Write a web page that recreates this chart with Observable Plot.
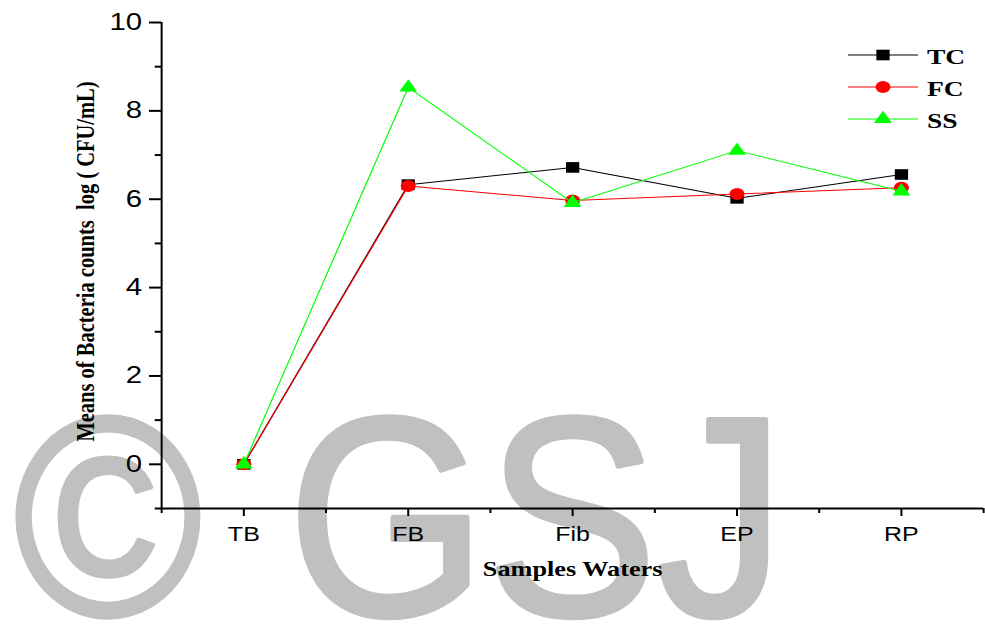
<!DOCTYPE html>
<html>
<head>
<meta charset="utf-8">
<script src="https://cdn.jsdelivr.net/npm/d3@7"></script>
<script src="https://cdn.jsdelivr.net/npm/@observablehq/plot@0.6"></script>
<style>
  html, body { margin: 0; padding: 0; background: #fff; width: 985px; height: 625px; overflow: hidden; }
  #wm { position: absolute; left: 0; top: 0; }
  #wrap { position: absolute; left: 0; top: 0; width: 788px; height: 625px; transform: scale(1.25, 1); transform-origin: 0 0; }
  #wrap svg { position: absolute; left: 0; top: 0; background: transparent; }
</style>
</head>
<body>
<svg id="wm" width="985" height="625"></svg>
<div id="wrap"></div>
<script>
// ---- data ----
const samples = ["TB", "FB", "Fib", "EP", "RP"];
const tc = [0, 6.33, 6.72, 6.02, 6.56];
const fc = [0, 6.30, 5.97, 6.12, 6.26];
const ss = [0, 8.53, 5.92, 7.10, 6.18];
const seriesNames = ["TC", "FC", "SS"];
const yTicks = [0, 2, 4, 6, 8, 10];
const yMinorTicks = [-1, 1, 3, 5, 7, 9];
const xMinorTicks = [0.5, 1.5, 2.5, 3.5, 4.5, 5.5];
const xTitle = "Samples Waters";
const yTitle = "Means of Bacteria counts  log ( CFU/mL)";
const watermark = ["©", "G", "S", "J"];

// ---- layout ----
const S = 1.25;             // horizontal stretch of the original picture
const W = 985 / S;
const xLeft = 161 / S, xRight = 983 / S;

const rows = samples.map((s, i) => ({ x: i + 1, name: s, TC: tc[i], FC: fc[i], SS: ss[i] }));
const colors = { TC: "#000000", FC: "#ff0000", SS: "#00ff00" };
const symbols = { TC: "square", FC: "circle", SS: "triangle" };
const radii = { TC: 6, FC: 6, SS: 5.3 };

const seriesMarks = seriesNames.flatMap(k => [
  Plot.line(rows, { x: "x", y: k, stroke: colors[k], strokeWidth: 1 }),
  Plot.dot(rows, { x: "x", y: k, symbol: symbols[k], r: radii[k], fill: colors[k], stroke: "none" })
]);

const serif = "Liberation Serif, Times New Roman, serif";
const sans = "Liberation Sans, Arial, sans-serif";

const plot = Plot.plot({
  width: W,
  height: 625,
  marginLeft: xLeft,
  marginRight: W - xRight,
  marginTop: 22,
  marginBottom: 117,
  style: { background: "transparent", overflow: "visible" },
  x: { domain: [0.5, 5.5], axis: null },
  y: { domain: [-1, 10], axis: null },
  marks: [
    Plot.ruleX([0.5], { stroke: "black", strokeWidth: 1.6 }),
    Plot.ruleY([-1], { stroke: "black", strokeWidth: 2 }),
    Plot.axisY(yTicks, { tickSize: 9.6, tickPadding: 6, strokeWidth: 2, color: "black",
      fontSize: 23.5, fontFamily: sans, label: null }),
    Plot.axisY(yMinorTicks, { tickSize: 5, tickFormat: () => "", strokeWidth: 2, color: "black", label: null }),
    Plot.axisX([1, 2, 3, 4, 5], { tickSize: 8, tickPadding: 10, strokeWidth: 1.6, color: "black",
      tickFormat: d => samples[d - 1], fontSize: 20, fontFamily: sans, label: null }),
    Plot.axisX(xMinorTicks, { tickSize: 5, tickFormat: () => "", strokeWidth: 1.6, color: "black", label: null }),
    Plot.text([yTitle], { frameAnchor: "left", textAnchor: "middle", rotate: -90, dx: (85 - 161) / S, dy: -4,
      fontSize: 20.5, fontWeight: "bold", fontFamily: serif, fill: "black" }),
    Plot.text([xTitle], { frameAnchor: "bottom", textAnchor: "middle", dy: 67,
      fontSize: 21, fontWeight: "bold", fontFamily: serif, fill: "black" }),
    ...seriesMarks
  ]
});
// drop the empty labels of the minor-tick axes
d3.select(plot).selectAll("text").filter(function () { return this.textContent === ""; }).remove();
document.getElementById("wrap").appendChild(plot);

// ---- legend (stretched with the plot) ----
const leg = d3.select("#wrap").append("svg")
  .attr("width", W).attr("height", 625)
  .style("pointer-events", "none");
const symGen = { square: d3.symbolSquare, circle: d3.symbolCircle, triangle: d3.symbolTriangle };
seriesNames.forEach((k, i) => {
  const y = 55 + i * 32;
  const g = leg.append("g");
  g.append("line").attr("x1", 848 / S).attr("x2", 918 / S).attr("y1", y).attr("y2", y)
    .attr("stroke", colors[k]).attr("stroke-width", 1);
  g.append("path").attr("transform", `translate(${883 / S},${y})`)
    .attr("d", d3.symbol(symGen[symbols[k]], Math.PI * radii[k] * radii[k])())
    .attr("fill", colors[k]);
  g.append("text").attr("x", 927 / S).attr("y", y + 9)
    .attr("font-family", serif)
    .attr("font-weight", "bold").attr("font-size", 22).attr("fill", "black")
    .text(k);
});

// ---- watermark (behind the chart) ----
const wm = d3.select("#wm");
const wmX = [108, 387, 572, 721];
watermark.forEach((ch, i) => {
  wm.append("text")
    .attr("transform", `translate(${wmX[i]},615) scale(0.9,1)`)
    .attr("text-anchor", "middle")
    .attr("font-family", sans)
    .attr("font-size", 284)
    .attr("fill", "#c0c0c0")
    .attr("stroke", "#c0c0c0")
    .attr("stroke-width", 5)
    .attr("stroke-linejoin", "round")
    .text(ch);
});
</script>
</body>
</html>
